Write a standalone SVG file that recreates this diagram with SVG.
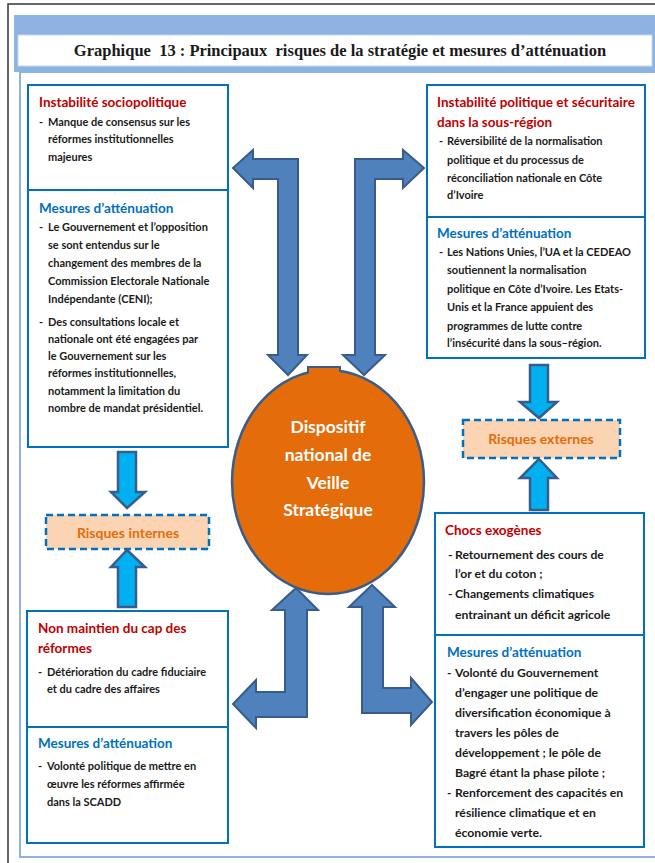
<svg xmlns="http://www.w3.org/2000/svg" width="655" height="863" viewBox="0 0 655 863">
<style>
.box{fill:#fff;stroke:#0070c0;stroke-width:2}
.h{font-family:Lato,"Liberation Sans",sans-serif;font-weight:bold;font-size:13.5px}
.red{fill:#c00000}
.blue{fill:#0070c0}
.t{font-family:Lato,"Liberation Sans",sans-serif;font-weight:bold;font-size:11px;fill:#1a1a1a}
.t2{font-family:Lato,"Liberation Sans",sans-serif;font-weight:bold;font-size:12.2px;fill:#1a1a1a}
.big{fill:#4f81bd;stroke:#385d8a;stroke-width:2;stroke-linejoin:miter}
.cy{fill:#00b0f0;stroke:#385d8a;stroke-width:2.5}
.risk{fill:#fbd4b4;stroke:#0070c0;stroke-width:2.5;stroke-dasharray:7,4}
.rt{font-family:Lato,"Liberation Sans",sans-serif;font-weight:bold;font-size:14px;fill:#e46c0a;text-anchor:middle}
.ct{font-family:Lato,"Liberation Sans",sans-serif;font-weight:bold;font-size:17.5px;fill:#fff;text-anchor:middle}
.ttl{font-family:"Liberation Serif",serif;font-weight:bold;font-size:16.5px;fill:#1a1a1a;text-anchor:middle;white-space:pre}
</style>
<rect width="655" height="863" fill="#fff"/>
<path d="M8,863 V4 H655" fill="none" stroke="#333" stroke-width="1.5"/>
<rect x="14" y="15" width="645" height="57" fill="#8db3e2"/>
<rect x="20" y="72" width="640" height="785" fill="#fff" stroke="#8db3e2" stroke-width="2"/>
<g id="title">
<rect x="18" y="35" width="634" height="31" fill="#fff" stroke="#c6d9f1" stroke-width="1"/>
<text class="ttl" x="340" y="56">Graphique  13 : Principaux  risques de la stratégie et mesures d’atténuation</text>
</g>
<g id="instab-socio">
<rect class="box" x="28" y="85" width="200" height="105"/>
<text class="h red" x="39" y="107">Instabilité sociopolitique</text>
<text class="t" x="39" y="126">-</text>
<text class="t" x="48" y="126">Manque de consensus sur les</text>
<text class="t" x="48" y="143">réformes institutionnelles</text>
<text class="t" x="48" y="161">majeures</text>
</g>
<g id="mesures-socio">
<rect class="box" x="28" y="190" width="200" height="257"/>
<text class="h blue" x="39" y="213">Mesures d’atténuation</text>
<text class="t" x="39" y="231">-</text>
<text class="t" x="48" y="231">Le Gouvernement et l’opposition</text>
<text class="t" x="48" y="249">se sont entendus sur le</text>
<text class="t" x="48" y="267">changement des membres de la</text>
<text class="t" x="48" y="285">Commission Electorale Nationale</text>
<text class="t" x="48" y="303">Indépendante  (CENI);</text>
<text class="t" x="39" y="326">-</text>
<text class="t" x="48" y="326">Des consultations locale et</text>
<text class="t" x="48" y="343">nationale ont été engagées par</text>
<text class="t" x="48" y="360">le Gouvernement sur les</text>
<text class="t" x="48" y="377">réformes institutionnelles,</text>
<text class="t" x="48" y="395">notamment la limitation du</text>
<text class="t" x="48" y="412">nombre de mandat présidentiel.</text>
</g>
<g id="instab-region">
<rect class="box" x="427" y="85" width="218" height="132"/>
<text class="h red" x="437" y="107">Instabilité politique et sécuritaire</text>
<text class="h red" x="437" y="127">dans la sous-région</text>
<text class="t" x="439" y="145">-</text>
<text class="t" x="447" y="145">Réversibilité de la normalisation</text>
<text class="t" x="447" y="164">politique  et du processus de</text>
<text class="t" x="447" y="182">réconciliation  nationale en Côte</text>
<text class="t" x="447" y="199">d’Ivoire</text>
</g>
<g id="mesures-region">
<rect class="box" x="427" y="217" width="218" height="141"/>
<text class="h blue" x="437" y="238">Mesures d’atténuation</text>
<text class="t" x="439" y="256">-</text>
<text class="t" x="447" y="256">Les Nations Unies, l’UA et la CEDEAO</text>
<text class="t" x="447" y="274">soutiennent  la normalisation</text>
<text class="t" x="447" y="293">politique  en Côte d’Ivoire. Les Etats-</text>
<text class="t" x="447" y="311">Unis et la France appuient  des</text>
<text class="t" x="447" y="330">programmes de lutte contre</text>
<text class="t" x="447" y="347">l’insécurité dans la sous–région.</text>
</g>
<g id="dispositif">
<path d="M308,374 V367 H340 V374 Z" fill="#e46c0a" stroke="#385d8a" stroke-width="2"/>
<ellipse cx="328" cy="482" rx="96" ry="112" fill="#e46c0a" stroke="#385d8a" stroke-width="2.5"/>
<rect x="309" y="368" width="30" height="8" fill="#e46c0a"/>
<text class="ct" x="328" y="433">Dispositif</text>
<text class="ct" x="328" y="461">national de</text>
<text class="ct" x="328" y="489">Veille</text>
<text class="ct" x="328" y="516">Stratégique</text>
</g>
<g id="risques-internes">
<rect class="risk" x="46" y="515" width="163" height="34"/>
<text class="rt" x="128" y="538">Risques internes</text>
</g>
<g id="risques-externes">
<rect class="risk" x="463" y="420" width="157" height="38"/>
<text class="rt" x="541" y="444">Risques externes</text>
</g>
<g id="non-maintien">
<rect class="box" x="27" y="611" width="201" height="116"/>
<text class="h red" x="38" y="633">Non maintien du cap des</text>
<text class="h red" x="38" y="653">réformes</text>
<text class="t" x="38" y="676">-</text>
<text class="t" x="47" y="676">Détérioration du cadre fiduciaire</text>
<text class="t" x="47" y="693">et du cadre des affaires</text>
</g>
<g id="mesures-reformes">
<rect class="box" x="27" y="727" width="201" height="116"/>
<text class="h blue" x="38" y="748">Mesures d’atténuation</text>
<text class="t" x="38" y="770">-</text>
<text class="t" x="47" y="770">Volonté politique de mettre en</text>
<text class="t" x="47" y="788">œuvre les réformes affirmée</text>
<text class="t" x="47" y="806">dans la SCADD</text>
</g>
<g id="chocs">
<rect class="box" x="435" y="513" width="209" height="122"/>
<text class="h red" x="445" y="535">Chocs exogènes</text>
<text class="t2" x="448" y="559">-</text>
<text class="t2" x="455" y="559">Retournement des cours de</text>
<text class="t2" x="455" y="578">l’or et du coton ;</text>
<text class="t2" x="448" y="598">-</text>
<text class="t2" x="455" y="598">Changements climatiques</text>
<text class="t2" x="455" y="619">entrainant un déficit agricole</text>
</g>
<g id="mesures-chocs">
<rect class="box" x="435" y="635" width="209" height="212"/>
<text class="h blue" x="447" y="657">Mesures d’atténuation</text>
<text class="t2" x="447" y="677">-</text>
<text class="t2" x="455" y="677">Volonté du Gouvernement</text>
<text class="t2" x="455" y="697">d’engager une politique de</text>
<text class="t2" x="455" y="717">diversification  économique à</text>
<text class="t2" x="455" y="737">travers les pôles de</text>
<text class="t2" x="455" y="757">développement ; le pôle de</text>
<text class="t2" x="455" y="777">Bagré étant la phase pilote ;</text>
<text class="t2" x="447" y="797">-</text>
<text class="t2" x="455" y="797">Renforcement des capacités  en</text>
<text class="t2" x="455" y="817">résilience climatique et en</text>
<text class="t2" x="455" y="837">économie verte.</text>
</g>
<g id="connectors">
<path class="big" d="M233,168 L253,150 L253,159 L298,159 L298,355 L307,355 L288,375 L268,355 L278,355 L278,179 L253,179 L253,188 Z"/>
<path class="big" d="M424,168 L403,150 L403,159 L355,159 L355,355 L343,355 L364,375 L385,355 L375,355 L375,179 L403,179 L403,188 Z"/>
<path class="big" d="M296,588 L318,610 L307,610 L307,717 L256,717 L256,728 L233,704 L256,680 L256,692 L285,692 L285,610 L272,610 Z"/>
<path class="big" d="M372,585 L395,607 L383,607 L383,688 L411,688 L411,678 L432,702 L411,725 L411,713 L362,713 L362,607 L349,607 Z"/>
<path class="cy" d="M118,452 H136 V492 H145 L127,508 L111,492 H118 Z"/>
<path class="cy" d="M127,550 L145,567 H136 V607 H118 V567 H111 Z"/>
<path class="cy" d="M530,365 H548 V402 H557 L539,418 L520,402 H530 Z"/>
<path class="cy" d="M539,459 L557,478 H548 V510 H530 V478 H520 Z"/>
</g>
</svg>
